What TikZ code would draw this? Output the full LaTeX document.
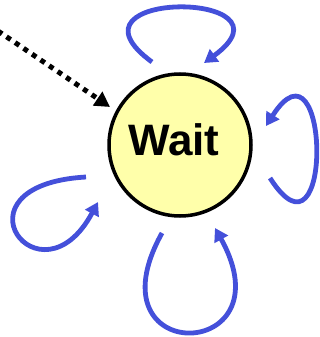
\documentclass[tikz,border=0pt]{standalone}
\usepackage{fontspec}
\setmainfont{Liberation Sans}
\usetikzlibrary{arrows.meta}
\definecolor{loopblue}{RGB}{68,80,218}
\definecolor{statefill}{RGB}{255,255,170}
\begin{document}
\begin{tikzpicture}[x=1pt,y=-1pt,
  statenode/.style={circle,draw=black,line width=3.5pt,fill=statefill,minimum size=142pt,inner sep=0pt},
  statetext/.style={font=\fontsize{44}{44}\selectfont\bfseries,inner sep=0pt},
  selfloop/.style={draw=loopblue,line width=4.8pt,-{Triangle[length=13pt,width=15pt]}},
  initarrow/.style={draw=black,line width=5pt,dash pattern=on 5pt off 5.3pt,-{Triangle[length=15pt,width=16pt]}}
]
\useasboundingbox (0,0) rectangle (320,337);
\node[statenode] (wait) at (180,145) {};
\node[statetext] (waittext) at (174,140) {Wait};
% initial arrow
\coordinate (init) at (-2,31);
\coordinate (inittip) at (110,107);
\draw[initarrow] (init) -- (inittip);
% top loop
\coordinate (t1) at (152,62);
\coordinate (t2) at (204,63);
\draw[selfloop] (t1) .. controls (52,-11) and (304,-10) .. (t2);
% right loop
\coordinate (r1) at (270,178);
\coordinate (r2) at (266,126);
\draw[selfloop] (r1) .. controls (334,278) and (330,26) .. (r2);
% bottom loop
\coordinate (b1) at (162,233);
\coordinate (b2) at (215,228);
\draw[selfloop] (b1) .. controls (87,368) and (290,363) .. (b2);
% left loop
\coordinate (l1) at (86,177);
\coordinate (l2) at (98,202);
\draw[selfloop] (l1) .. controls (-54,185) and (40,310) .. (l2);
\end{tikzpicture}
\end{document}
